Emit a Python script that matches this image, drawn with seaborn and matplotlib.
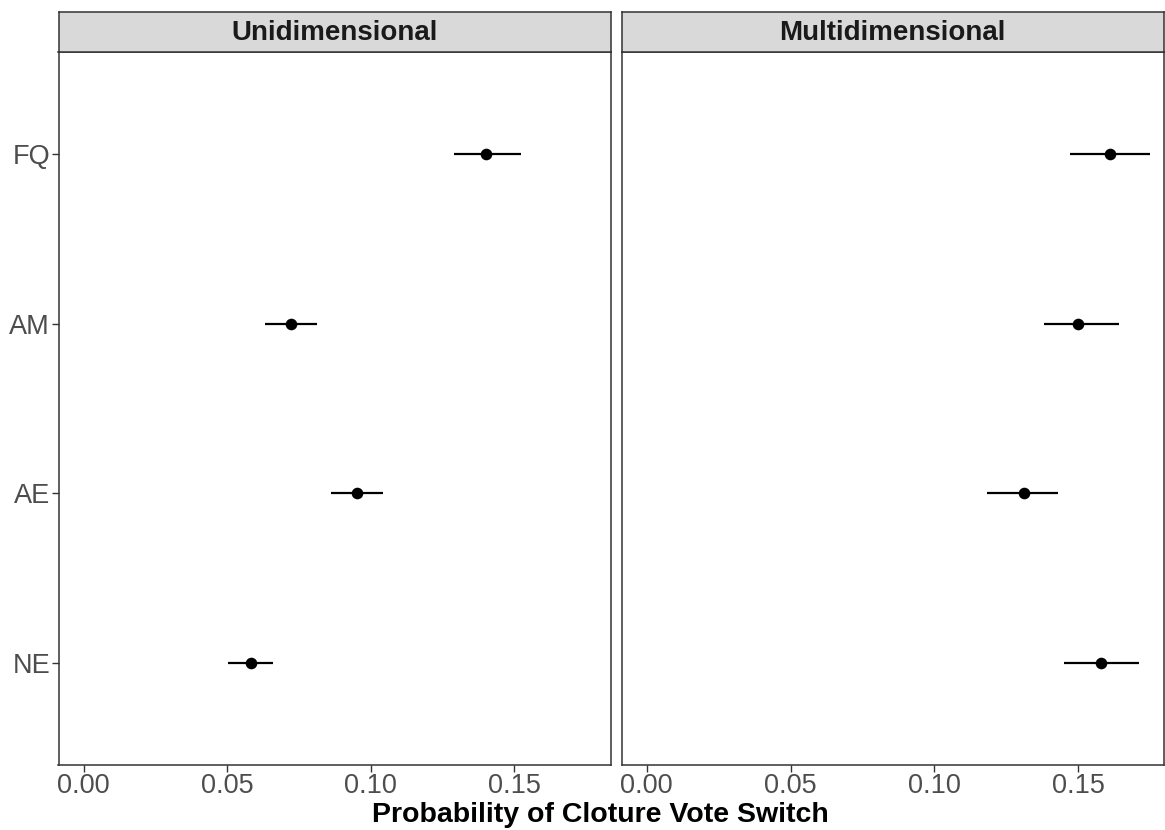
import matplotlib
matplotlib.use("Agg")
import matplotlib.pyplot as plt
import seaborn as sns
import pandas as pd

# Estimated probabilities of a cloture vote switch with 95% intervals
categories = ["NE", "AE", "AM", "FQ"]
panels = ["Unidimensional", "Multidimensional"]

uni_est = [0.0582, 0.0952, 0.0721, 0.1403]
uni_lo = [0.0503, 0.0863, 0.0632, 0.1289]
uni_hi = [0.0661, 0.1042, 0.0812, 0.1523]

multi_est = [0.1580, 0.1312, 0.1501, 0.1611]
multi_lo = [0.1451, 0.1182, 0.1382, 0.1472]
multi_hi = [0.1712, 0.1430, 0.1641, 0.1750]

x_ticks = [0.00, 0.05, 0.10, 0.15]
x_tick_labels = ["0.00", "0.05", "0.10", "0.15"]

frames = []
for name, est, lo, hi in [
    (panels[0], uni_est, uni_lo, uni_hi),
    (panels[1], multi_est, multi_lo, multi_hi),
]:
    frames.append(pd.DataFrame({"model": name, "type": categories,
                                "est": est, "lo": lo, "hi": hi}))
df = pd.concat(frames, ignore_index=True)

sns.set_theme(style="white")
plt.rcParams["font.family"] = ["Liberation Sans", "DejaVu Sans"]

W, H = 1165, 830
fig = plt.figure(figsize=(W / 100, H / 100), dpi=100)

dark = "#333333"
panel_boxes = [(58.5, 611.0, 0.18375), (621.6, 1164.0, 0.1799)]
top_px, bottom_px, strip_top_px = 52, 765, 12

for (x0, x1, xmax), name in zip(panel_boxes, panels):
    ax = fig.add_axes([x0 / W, (H - bottom_px) / H, (x1 - x0) / W,
                       (bottom_px - top_px) / H])
    sub = df[df["model"] == name]
    ax.hlines(sub["type"], sub["lo"], sub["hi"], color="black", lw=1.6, zorder=2)
    sns.scatterplot(data=sub, x="est", y="type", ax=ax, color="black",
                    s=70, edgecolor="black", linewidth=0, zorder=3, legend=False)
    ax.set_xlim(-0.00875, xmax)
    ax.set_ylim(-0.6, len(categories) - 0.4)
    ax.set_xticks(x_ticks)
    ax.set_xticklabels(x_tick_labels)
    ax.set_xlabel("")
    ax.set_ylabel("")
    ax.tick_params(axis="both", which="both", length=5, width=1.0, color=dark,
                   labelsize=19.5, labelcolor="#4D4D4D", pad=1)
    ax.tick_params(axis="x", bottom=True)
    ax.tick_params(axis="y", left=True)
    if name != panels[0]:
        ax.tick_params(axis="y", left=False, labelleft=False)
    for sp in ax.spines.values():
        sp.set_visible(True)
        sp.set_color(dark)
        sp.set_linewidth(1.1)
    ax.grid(False)

    # facet strip
    sax = fig.add_axes([x0 / W, (H - top_px) / H, (x1 - x0) / W,
                        (top_px - strip_top_px) / H])
    sax.set_facecolor("#D9D9D9")
    sax.set_xticks([])
    sax.set_yticks([])
    for sp in sax.spines.values():
        sp.set_visible(True)
        sp.set_color(dark)
        sp.set_linewidth(1.1)
    sax.text(0.5, 0.47, name, ha="center", va="center", fontsize=20,
             fontweight="bold", color="#1A1A1A", transform=sax.transAxes)

fig.text(600 / W, (H - 815) / H, "Probability of Cloture Vote Switch",
         ha="center", va="center", fontsize=20.5, fontweight="bold", color="black")

fig.savefig("out.png", dpi=100)
